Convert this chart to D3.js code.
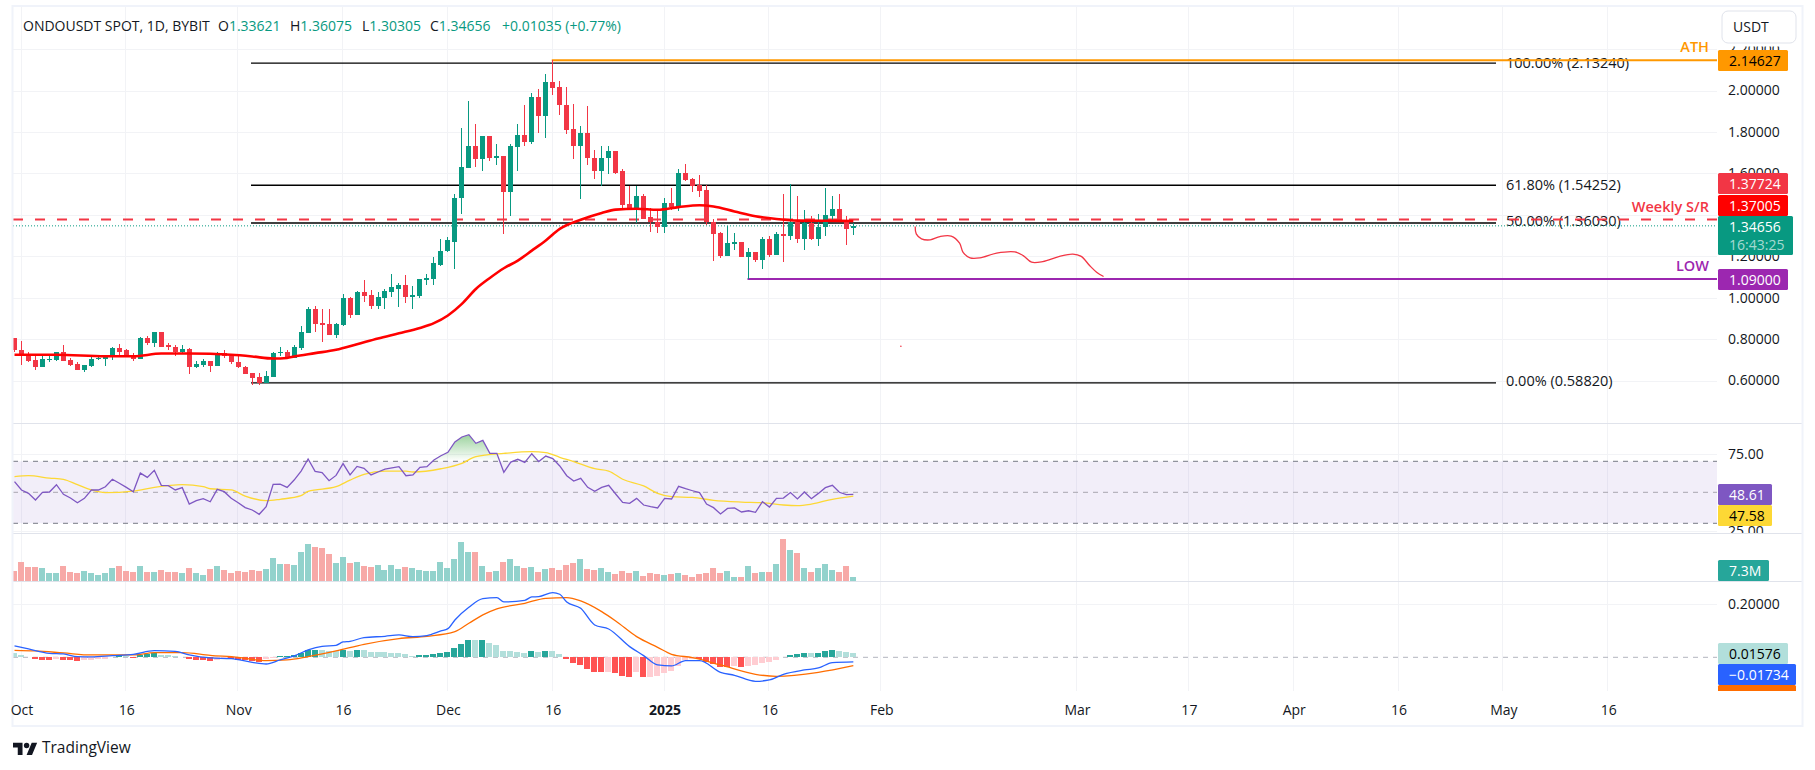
<!DOCTYPE html>
<html lang="en">
	<head>
		<title>ONDOUSDT 1D</title>
		<meta http-equiv="Content-Type" content="text/html; charset=utf-8">
		<script src="https://d3js.org/d3.v7.min.js"></script>
		<style>
			html, body { margin: 0; padding: 0; background: #fff; }
			svg { display: block; }
			text { font-family: "Open Sans", sans-serif; fill: #131722; }
		</style>
	</head>
	<body>
		<svg id="chart" width="1815" height="770"></svg>

		<script>

			// all series start on 30 Sep (day -1), day 0 is 1 Oct 2024
			var firstDay = -1;

			var opens = [
				.807,.749,.720,.701,.667,.701,.701,.740,.701,.682,
				.653,.672,.706,.706,.716,.759,.745,.725,.706,.803,
				.783,.832,.769,.764,.740,.754,.667,.677,.696,.672,
				.735,.720,.691,.667,.634,.619,.590,.619,.735,.740,
				.711,.759,.831,.947,.880,.875,.822,.870,.996,.918,
				1.025,1.015,.962,1.000,1.029,1.044,1.063,1.005,1.010,1.087,
				1.092,1.160,1.223,1.271,1.479,1.628,1.730,1.667,1.778,1.672,
				1.686,1.512,1.725,1.783,1.749,1.971,1.879,2.039,2.015,1.932,
				1.812,1.734,1.797,1.676,1.609,1.672,1.710,1.609,1.450,1.430,
				1.493,1.387,1.367,1.339,1.459,1.435,1.604,1.575,1.546,1.522,
				1.367,1.310,1.203,1.261,1.271,1.198,1.218,1.184,1.285,1.208,
				1.305,1.300,1.363,1.285,1.358,1.281,1.339,1.396,1.430,1.372,1.33621
			];
			var highs = [
				.807,.793,.740,.720,.716,.730,.740,.769,.711,.691,
				.677,.720,.725,.725,.764,.778,.754,.735,.812,.817,
				.836,.836,.783,.769,.769,.759,.696,.706,.696,.740,
				.749,.725,.716,.672,.638,.634,.648,.740,.764,.749,
				.769,.865,.957,.962,.947,.943,.880,1.020,1.005,1.034,
				1.083,1.039,1.029,1.044,1.116,1.073,1.107,1.054,1.092,1.116,
				1.198,1.285,1.295,1.498,1.821,1.947,1.836,1.778,1.778,1.744,
				1.686,1.744,1.836,1.928,1.986,2.005,2.082,2.146,2.048,2.019,
				1.937,1.831,1.923,1.715,1.734,1.734,1.710,1.623,1.537,1.541,
				1.498,1.435,1.425,1.479,1.527,1.619,1.643,1.580,1.594,1.546,
				1.382,1.319,1.348,1.314,1.271,1.242,1.218,1.295,1.300,1.319,
				1.498,1.551,1.493,1.421,1.392,1.406,1.527,1.493,1.498,1.392,1.36075
			];
			var lows = [
				.740,.677,.687,.653,.667,.691,.696,.696,.672,.653,
				.643,.667,.701,.672,.701,.716,.716,.696,.706,.769,
				.764,.764,.749,.716,.735,.629,.658,.663,.643,.672,
				.711,.682,.658,.629,.580,.580,.590,.619,.720,.706,
				.711,.745,.831,.836,.788,.822,.807,.865,.904,.914,
				.981,.943,.943,.947,1.005,.957,.976,.947,.996,1.063,
				1.063,1.155,1.218,1.136,1.406,1.628,1.633,1.609,1.662,1.638,
				1.305,1.392,1.609,1.730,1.744,1.797,1.773,1.976,1.884,1.788,
				1.667,1.474,1.638,1.575,1.537,1.599,1.599,1.435,1.421,1.358,
				1.382,1.319,1.310,1.310,1.421,1.416,1.561,1.508,1.488,1.353,
				1.179,1.189,1.203,1.232,1.194,1.090,1.170,1.136,1.194,1.208,
				1.170,1.276,1.266,1.232,1.276,1.247,1.300,1.363,1.363,1.256,1.30305
			];
			var closes = [
				.745,.716,.696,.667,.706,.706,.740,.696,.677,.653,
				.677,.706,.711,.725,.759,.740,.720,.706,.803,.783,
				.832,.764,.764,.740,.754,.667,.682,.696,.672,.735,
				.716,.687,.663,.629,.614,.590,.624,.735,.740,.711,
				.764,.836,.947,.875,.870,.822,.875,.996,.918,1.025,
				1.010,.962,1.005,1.034,1.049,1.063,1.005,1.015,1.092,1.097,
				1.165,1.227,1.276,1.483,1.633,1.730,1.667,1.778,1.672,1.686,
				1.512,1.730,1.783,1.749,1.971,1.879,2.039,2.010,1.928,1.807,
				1.734,1.797,1.672,1.609,1.676,1.710,1.604,1.445,1.425,1.493,
				1.382,1.363,1.339,1.459,1.440,1.604,1.570,1.541,1.517,1.363,
				1.305,1.203,1.266,1.271,1.198,1.218,1.184,1.285,1.208,1.305,
				1.300,1.363,1.285,1.358,1.281,1.343,1.401,1.430,1.363,1.329,1.34656
			];

			// 50 day EMA, read every few days
			var maDays = [-1,5,12,16,20,24,30,33,36,38,39,42,45,48,51,54,57,59,61,63,65,67,69,71,73,75,77,80,83,85,88,91,94,97,99,102,105,108,111,115,119];
			var maValues = [.724,.724,.717,.717,.730,.730,.724,.716,.706,.709,.716,.732,.748,.775,.803,.828,.854,.877,.914,.970,1.042,1.095,1.142,1.179,1.227,1.276,1.332,1.376,1.409,1.425,1.429,1.424,1.437,1.446,1.440,1.416,1.393,1.380,1.372,1.371,1.37];

			var rsi = [
				56.9,51.5,49.3,45.0,50.0,50.2,54.9,48.7,46.3,43.3,
				46.1,51.5,51.5,53.6,58.4,55.8,53.2,50.4,62.4,59.6,
				64.2,54.5,54.3,51.5,53.0,42.4,44.6,45.9,43.9,51.9,
				50.4,46.1,43.3,40.1,38.6,35.8,40.7,55.1,55.3,53.2,
				57.9,63.7,71.5,63.5,62.7,57.5,60.9,68.5,61.2,66.7,
				65.5,61.2,63.1,65.0,65.7,66.5,60.7,61.2,66.1,66.5,
				70.8,73.6,75.8,82.5,85.7,87.2,81.6,83.5,75.1,75.1,
				62.9,69.5,71.3,69.3,74.9,69.8,73.4,71.7,67.0,60.7,
				57.3,59.0,53.2,50.6,53.2,54.5,48.9,43.5,42.9,46.1,
				41.8,40.7,39.9,46.1,45.7,53.8,52.3,51.0,49.8,42.4,
				40.1,36.0,39.6,39.9,37.3,38.1,37.1,43.9,40.5,46.1,
				46.3,49.8,45.7,50.2,45.9,49.3,53.0,54.5,50.0,48.5,48.61
			];
			var rsiMaDays = [-1,1,4,6,8,10,12,16,19,23,26,27,30,32,35,37,40,41,45,47,49,52,55,56,60,63,65,69,73,75,77,79,82,84,86,89,91,93,96,99,103,106,109,111,113,116,119];
			var rsiMaValues = [60.1,60.7,59.2,58.4,54.9,51.5,49.8,50.8,53.2,54.9,53.6,52.3,51.5,47.6,44.6,45.5,47.8,50.6,53.6,57.9,61.6,63.7,63.7,63.1,65.2,68.7,73.0,75.1,76.2,75.6,72.6,69.8,65.2,63.7,58.4,54.1,49.3,47.2,46.7,44.8,43.7,43.3,41.8,41.4,42.4,45.5,47.58];

			// in millions
			var volumes = [
				18.6,34.8,25.8,25.8,24,15,15,27.6,16.8,15,
				18.6,15,11.4,15,24,27.6,18.6,16.8,27.6,16.8,
				16.8,20.4,16.8,16.8,15,24,15,11.4,22.2,27.6,
				20.4,15,18.6,16.8,20.4,18.6,22.2,42,31.2,31.2,
				29.4,52.8,67.2,61.8,60,49.2,33,43.8,33,34.8,
				27.6,25.8,29.4,20.4,29.4,22.2,25.8,24,20.4,18.6,
				18.6,34.8,24,40.2,70.8,52.8,52.8,27.6,16.8,18.6,
				34.8,40.2,27.6,24,25.8,16.8,22.2,24,20.4,29.4,
				33,40.2,22.2,20.4,24,16.8,13.2,18.6,15,18.6,
				9.6,15,13.2,11.4,13.2,15,11.4,7.8,13.2,15,
				24,15,18.6,7.8,7.8,27.6,15,16.8,16.8,31.2,
				76.2,56.4,51,24,16.8,24,31.2,20.4,16.8,27.6,7.3
			];

			var histogram = [
				.0164,.0088,.0010,-.0063,-.0088,-.0089,-.0050,-.0088,-.0090,-.0126,
				-.0120,-.0088,-.0050,-.0048,.0010,.0075,.0060,-.0012,.0075,.0113,
				.0151,.0088,.0086,.0050,.0005,-.0050,-.0088,-.0090,-.0126,-.0088,
				-.0050,-.0075,-.0088,-.0090,-.0151,-.0164,-.0063,-.0038,.0050,.0055,
				.0088,.0151,.0277,.0280,.0277,.0226,.0224,.0277,.0252,.0277,
				.0275,.0201,.0200,.0199,.0164,.0162,.0126,.0050,.0088,.0090,
				.0126,.0164,.0201,.0352,.0503,.0654,.0642,.0654,.0541,.0465,
				.0239,.0238,.0201,.0164,.0239,.0201,.0239,.0237,.0126,-.0063,
				-.0214,-.0289,-.0440,-.0554,-.0556,-.0550,-.0591,-.0704,-.0742,-.0560,
				-.0742,-.0740,-.0704,-.0591,-.0516,-.0327,-.0101,-.0050,-.0063,-.0164,
				-.0252,-.0365,-.0367,-.0327,-.0365,-.0327,-.0289,-.0214,-.0164,-.0088,
				-.0006,.0088,.0126,.0164,.0162,.0164,.0239,.0277,.0239,.0201,.01576
			];
			var macdDays = [-1,1,4,6,8,10,13,16,19,22,24,27,30,33,35,37,39,41,43,45,46,47,49,52,54,56,58,60,61,62,64,66,68,69,72,73,74,76,77,78,80,82,84,87,89,91,93,95,97,100,102,105,107,109,112,114,116,119];
			var macdValues = [.0428,.0315,.0151,.0126,.0025,.0013,.0063,.0113,.0252,.0226,.0088,-.0025,-.0050,-.0189,-.0252,-.0101,.0050,.0277,.0415,.0453,.0579,.0604,.0742,.0793,.0843,.0780,.0818,.0994,.1082,.1409,.1887,.2214,.2252,.2088,.2151,.2277,.2290,.2441,.2378,.2088,.1849,.1220,.1069,.0403,.0063,-.0289,-.0327,-.0126,-.0126,-.0566,-.0679,-.0906,-.0855,-.0642,-.0478,-.0403,-.0201,-.01734];
			var signalDays = [-1,2,6,10,16,19,23,27,31,35,38,41,45,49,54,58,62,64,66,68,72,75,78,80,83,85,88,91,93,96,100,105,108,114,119];
			var signalValues = [.0264,.0239,.0164,.0088,.0088,.0176,.0176,.0075,0,-.0126,-.0101,.0025,.0239,.0491,.0704,.0793,.0969,.1283,.1598,.1824,.2038,.2227,.2252,.2126,.1723,.1371,.0780,.0377,.0113,-.0013,-.0289,-.0642,-.0717,-.0566,-.0315];

			// hand drawn forecast on the main pane
			var sketchDays = [127.85,128,128.75,130,131.4,133,134.2,134.7,135.7,137.1,139.5,142.1,143.3,144.5,146.1,148.5,150.4,151.6,152.8,153.8,154.8];
			var sketchPrices = [1.343,1.308,1.284,1.279,1.295,1.297,1.263,1.219,1.192,1.192,1.215,1.221,1.203,1.171,1.174,1.199,1.210,1.199,1.155,1.123,1.102];
			var strayDay = 125.8, strayPrice = 0.765;

			var fibLevels = [2.1324, 1.54252, 1.3603, 0.5882];
			var fibLabels = ['100.00% (2.13240)', '61.80% (1.54252)', '50.00% (1.36030)', '0.00% (0.58820)'];

			var priceGridTicks = [2.2, 2.0, 1.8, 1.6, 1.4, 1.2, 1.0, 0.8, 0.6];
			var priceLabelTicks = [2.2, 2.0, 1.8, 1.6, 1.2, 1.0, 0.8, 0.6];
			var rsiTicks = [75, 25];
			var macdTicks = [0.2];
			var timeDays = [0, 15, 31, 46, 61, 76, 92, 107, 123, 151, 167, 182, 197, 212, 227];
			var timeLabels = ['Oct', '16', 'Nov', '16', 'Dec', '16', '2025', '16', 'Feb', 'Mar', '17', 'Apr', '16', 'May', '16'];

			var green = '#089981', red = '#f23645';
			var gridColor = '#f2f3f6', borderColor = '#e0e3eb';
			var left = 13, right = 1717, frameRight = 1802;

			var svg = d3.select('#chart');
			var days = opens.map((d, i) => i + firstDay);

			var x = d3.scaleLinear().domain([0, 123]).range([21.5, 881.3]);
			var yPrice = d3.scaleLinear().domain([2, 0.6]).range([90.5, 380.5]);
			var yRsi = d3.scaleLinear().domain([70, 30]).range([461.3, 523.3]);
			var yVolume = d3.scaleLinear().domain([0, 80]).range([581.3, 536.9]);
			var yMacd = d3.scaleLinear().domain([0.2, 0]).range([604.3, 657.3]);

			function addClip(id, y0, y1, x0, x1) {
				svg.append('clipPath').attr('id', id).append('rect')
					.attr('x', x0).attr('y', y0).attr('width', x1 - x0).attr('height', y1 - y0);
			}
			addClip('clipPlot', 7, 691, left, right);
			addClip('clipRsiAxis', 424, 533, right, frameRight);
			addClip('clipMacdBoxes', 582, 691, right, frameRight);

			// gradient under the overbought part of RSI
			var gradient = svg.append('defs').append('linearGradient').attr('id', 'overbought')
				.attr('gradientUnits', 'userSpaceOnUse')
				.attr('x1', 0).attr('x2', 0).attr('y1', yRsi(87)).attr('y2', yRsi(70));
			gradient.append('stop').attr('offset', 0).attr('stop-color', '#4caf50').attr('stop-opacity', 0.55);
			gradient.append('stop').attr('offset', 1).attr('stop-color', '#4caf50').attr('stop-opacity', 0);

			function lineGen(xs, scale, curve) {
				return d3.line().x((d, i) => x(xs[i])).y(d => scale(d)).curve(curve || d3.curveLinear);
			}

			// ---- grid ----
			var grid = svg.append('g');
			grid.selectAll('.v').data(timeDays).enter().append('line')
				.attr('x1', d => Math.round(x(d)) - 0.5).attr('x2', d => Math.round(x(d)) - 0.5)
				.attr('y1', 7).attr('y2', 691).attr('stroke', gridColor);
			function hGrid(ticks, scale) {
				grid.selectAll(null).data(ticks).enter().append('line')
					.attr('x1', left).attr('x2', right)
					.attr('y1', d => Math.round(scale(d)) + 0.5).attr('y2', d => Math.round(scale(d)) + 0.5)
					.attr('stroke', gridColor);
			}
			hGrid(priceGridTicks, yPrice);
			hGrid(rsiTicks, yRsi);
			hGrid(macdTicks, yMacd);

			// ---- main pane ----
			var main = svg.append('g').attr('clip-path', 'url(#clipPlot)');

			main.selectAll('.fib').data(fibLevels).enter().append('line')
				.attr('x1', 251).attr('x2', 1496)
				.attr('y1', d => yPrice(d)).attr('y2', d => yPrice(d))
				.attr('stroke', '#000').attr('stroke-width', 1.3);
			main.selectAll('.fibText').data(fibLabels).enter().append('text')
				.attr('x', 1506).attr('y', (d, i) => yPrice(fibLevels[i]))
				.attr('dy', (d, i) => [0, -0.6, -1.6, -2.2][i] + 5)
				.attr('font-size', 14.5).text(d => d);

			main.append('line').attr('x1', left).attr('x2', right)
				.attr('y1', yPrice(1.37724)).attr('y2', yPrice(1.37724))
				.attr('stroke', red).attr('stroke-width', 2).attr('stroke-dasharray', '10 12');
			main.append('line').attr('x1', left).attr('x2', right)
				.attr('y1', yPrice(1.34656)).attr('y2', yPrice(1.34656))
				.attr('stroke', green).attr('stroke-width', 1).attr('stroke-dasharray', '1 2');
			main.append('line').attr('x1', x(76) - 1).attr('x2', right)
				.attr('y1', yPrice(2.14627)).attr('y2', yPrice(2.14627))
				.attr('stroke', '#ff9800').attr('stroke-width', 2);
			main.append('line').attr('x1', x(104) - 1).attr('x2', right)
				.attr('y1', yPrice(1.09)).attr('y2', yPrice(1.09))
				.attr('stroke', '#9c27b0').attr('stroke-width', 2);

			// candles
			var candleColor = i => closes[i] >= opens[i] ? green : red;
			var candles = main.append('g').attr('shape-rendering', 'crispEdges');
			candles.selectAll('.wick').data(days).enter().append('rect')
				.attr('x', d => Math.round(x(d) - 0.5))
				.attr('width', 1)
				.attr('y', (d, i) => yPrice(highs[i]))
				.attr('height', (d, i) => yPrice(lows[i]) - yPrice(highs[i]))
				.attr('fill', (d, i) => candleColor(i));
			candles.selectAll('.body').data(days).enter().append('rect')
				.attr('x', d => Math.round(x(d) - 0.5) - 2)
				.attr('width', 5)
				.attr('y', (d, i) => yPrice(Math.max(opens[i], closes[i])))
				.attr('height', (d, i) => Math.max(1, Math.abs(yPrice(opens[i]) - yPrice(closes[i]))))
				.attr('fill', (d, i) => candleColor(i));

			main.append('path').attr('d', lineGen(maDays, yPrice, d3.curveMonotoneX)(maValues))
				.attr('fill', 'none').attr('stroke', '#ff0000').attr('stroke-width', 2.6);
			main.append('path').attr('d', lineGen(sketchDays, yPrice, d3.curveCatmullRom)(sketchPrices))
				.attr('fill', 'none').attr('stroke', red).attr('stroke-width', 1.3);
			main.append('circle').attr('cx', x(strayDay)).attr('cy', yPrice(strayPrice)).attr('r', 0.8).attr('fill', red);

			// ---- RSI pane ----
			var rsiPane = svg.append('g').attr('clip-path', 'url(#clipPlot)');
			rsiPane.append('rect').attr('x', left).attr('width', right - left)
				.attr('y', yRsi(70)).attr('height', yRsi(30) - yRsi(70))
				.attr('fill', '#7e57c2').attr('fill-opacity', 0.1);
			[70, 50, 30].forEach(level => {
				rsiPane.append('line').attr('x1', left).attr('x2', right)
					.attr('y1', yRsi(level)).attr('y2', yRsi(level))
					.attr('stroke', level == 50 ? '#a8a5b0' : '#787b86').attr('stroke-dasharray', '5 5');
			});
			svg.append('clipPath').attr('id', 'clipOverbought').append('rect')
				.attr('x', left).attr('width', right - left).attr('y', 424).attr('height', yRsi(70) - 424);
			rsiPane.append('g').attr('clip-path', 'url(#clipOverbought)').append('path')
				.attr('d', d3.area().x((d, i) => x(days[i])).y0(yRsi(70)).y1(d => yRsi(d))(rsi))
				.attr('fill', 'url(#overbought)');
			rsiPane.append('path').attr('d', lineGen(rsiMaDays, yRsi, d3.curveMonotoneX)(rsiMaValues))
				.attr('fill', 'none').attr('stroke', '#fdd835').attr('stroke-width', 1.3);
			rsiPane.append('path').attr('d', lineGen(days, yRsi)(rsi))
				.attr('fill', 'none').attr('stroke', '#7e57c2').attr('stroke-width', 1.3);

			// ---- volume pane ----
			var volumePane = svg.append('g').attr('clip-path', 'url(#clipPlot)').attr('shape-rendering', 'crispEdges');
			volumePane.selectAll('rect').data(volumes).enter().append('rect')
				.attr('x', (d, i) => Math.round(x(days[i]) - 0.5) - 3)
				.attr('width', 6)
				.attr('y', d => yVolume(d))
				.attr('height', d => yVolume(0) - yVolume(d))
				.attr('fill', (d, i) => closes[i] >= opens[i] ? '#92d2cc' : '#f7a9a7');

			// ---- MACD pane ----
			var macdPane = svg.append('g').attr('clip-path', 'url(#clipPlot)');
			macdPane.append('line').attr('x1', left).attr('x2', right)
				.attr('y1', yMacd(0)).attr('y2', yMacd(0))
				.attr('stroke', '#b2b5be').attr('stroke-dasharray', '5 5');
			function histColor(d, i) {
				var rising = i > 0 && histogram[i - 1] < d;
				if (d >= 0) return rising ? '#26a69a' : '#b2dfdb';
				return rising ? '#ffcdd2' : '#ff5252';
			}
			macdPane.append('g').attr('shape-rendering', 'crispEdges')
				.selectAll('rect').data(histogram).enter().append('rect')
				.attr('x', (d, i) => Math.round(x(days[i]) - 0.5) - 3)
				.attr('width', 6)
				.attr('y', d => Math.min(yMacd(d), yMacd(0)))
				.attr('height', d => Math.abs(yMacd(d) - yMacd(0)))
				.attr('fill', histColor);
			macdPane.append('path').attr('d', lineGen(signalDays, yMacd, d3.curveMonotoneX)(signalValues))
				.attr('fill', 'none').attr('stroke', '#ff6d00').attr('stroke-width', 1.3);
			macdPane.append('path').attr('d', lineGen(macdDays, yMacd, d3.curveMonotoneX)(macdValues))
				.attr('fill', 'none').attr('stroke', '#2962ff').attr('stroke-width', 1.3);

			// ---- drawing labels ----
			function drawLabel(text, value, color) {
				svg.append('text').attr('x', 1709).attr('y', yPrice(value) - 13.5)
					.attr('dy', 5.5).attr('text-anchor', 'end')
					.attr('font-size', 14.5).attr('font-weight', 600).style('fill', color).text(text);
			}
			drawLabel('ATH', 2.14627, '#ff9800');
			drawLabel('Weekly S/R', 1.37724, red);
			drawLabel('LOW', 1.09, '#9c27b0');

			// ---- separators and frame ----
			[423.5, 533.5, 581.5].forEach(y => {
				svg.append('line').attr('x1', left).attr('x2', frameRight)
					.attr('y1', y).attr('y2', y).attr('stroke', borderColor);
			});
			svg.append('rect').attr('x', 12.5).attr('y', 6).attr('width', 1790).attr('height', 720)
				.attr('fill', 'none').attr('stroke', '#f0f3fa').attr('stroke-width', 2);

			// ---- axes ----
			function styleAxis(g) {
				g.select('.domain').remove();
				g.selectAll('.tick line').remove();
				g.selectAll('.tick text').attr('font-size', 14).attr('font-family', '"Open Sans", sans-serif').style('fill', '#131722');
			}
			svg.append('g').attr('transform', 'translate(1728,0)')
				.call(d3.axisRight(yPrice).tickValues(priceLabelTicks).tickFormat(d3.format('.5f')).tickSize(0).tickPadding(0))
				.call(styleAxis);
			svg.append('g').attr('clip-path', 'url(#clipRsiAxis)').append('g').attr('transform', 'translate(1728,0)')
				.call(d3.axisRight(yRsi).tickValues(rsiTicks).tickFormat(d3.format('.2f')).tickSize(0).tickPadding(0))
				.call(styleAxis);
			svg.append('g').attr('transform', 'translate(1728,0)')
				.call(d3.axisRight(yMacd).tickValues(macdTicks).tickFormat(d3.format('.5f')).tickSize(0).tickPadding(0))
				.call(styleAxis);
			svg.append('g').attr('transform', 'translate(0,691)')
				.call(d3.axisBottom(x).tickValues(timeDays).tickFormat((d, i) => timeLabels[i]).tickSize(0).tickPadding(14))
				.call(styleAxis)
				.selectAll('.tick text').style('font-weight', (d, i) => timeLabels[i] == '2025' ? 700 : 400);

			// ---- price boxes ----
			function priceBox(parent, y0, y1, x1, color, textColor, text) {
				var box = parent.append('g');
				box.append('rect').attr('x', 1718).attr('y', y0).attr('width', x1 - 1718).attr('height', y1 - y0)
					.attr('rx', 1.5).attr('fill', color);
				box.append('text').attr('x', 1729).attr('y', y0 + 10.5).attr('dy', 5)
					.attr('font-size', 14).style('fill', textColor).text(text);
				return box;
			}
			priceBox(svg, 50, 71, 1788, '#ff9800', '#000', '2.14627');
			priceBox(svg, 173, 194, 1788, red, '#fff', '1.37724');
			priceBox(svg, 195, 216, 1788, '#ff0000', '#fff', '1.37005');
			priceBox(svg, 216, 255, 1793, green, '#fff', '1.34656')
				.append('text').attr('x', 1729).attr('y', 249.5)
				.attr('font-size', 14).style('fill', 'rgba(255,255,255,0.65)').text('16:43:25');
			priceBox(svg, 269, 290, 1788, '#9c27b0', '#fff', '1.09000');
			priceBox(svg, 484, 505, 1772, '#7e57c2', '#fff', '48.61');
			priceBox(svg, 505, 526, 1772, '#fdd835', '#000', '47.58');
			priceBox(svg, 560, 581, 1769, '#26a69a', '#fff', '7.3M');
			priceBox(svg, 643, 664, 1788, '#b2dfdb', '#000', '0.01576');
			priceBox(svg, 664, 685, 1796, '#2962ff', '#fff', '\u22120.01734');
			var clippedBox = svg.append('g').attr('clip-path', 'url(#clipMacdBoxes)');
			priceBox(clippedBox, 685, 706, 1796, '#ff6d00', '#fff', '\u22120.03310');

			// currency button, with a white margin over the top price label
			svg.append('rect').attr('x', 1718).attr('y', 8).attr('width', 82).attr('height', 38.5).attr('fill', '#fff');
			svg.append('rect').attr('x', 1722).attr('y', 11).attr('width', 74).attr('height', 32)
				.attr('rx', 6).attr('fill', '#fff').attr('stroke', borderColor);
			svg.append('text').attr('x', 1733).attr('y', 32).attr('font-size', 14).text('USDT');

			// ---- header ----
			var header = svg.append('text').attr('y', 31).attr('font-size', 14);
			header.append('tspan').attr('x', 23).text('ONDOUSDT SPOT, 1D, BYBIT');
			var headerPrices = [['O', 1.33621, 218], ['H', 1.36075, 290], ['L', 1.30305, 362], ['C', 1.34656, 430]];
			headerPrices.forEach(p => {
				header.append('tspan').attr('x', p[2]).text(p[0]);
				header.append('tspan').style('fill', green).text(d3.format('.5f')(p[1]));
			});
			header.append('tspan').attr('x', 502).style('fill', green).text('+0.01035 (+0.77%)');

			// ---- logo ----
			var logo = svg.append('g').attr('transform', 'translate(13,740) scale(0.68)').attr('fill', '#131722');
			logo.append('path').attr('d', 'M14 22H7V11H0V4h14v18zM28 22h-8l7.5-18h8L28 22z');
			logo.append('circle').attr('cx', 20).attr('cy', 8).attr('r', 4);
			svg.append('text').attr('x', 42).attr('y', 753).attr('font-size', 15.5).text('TradingView');

		</script>
	</body>
</html>
